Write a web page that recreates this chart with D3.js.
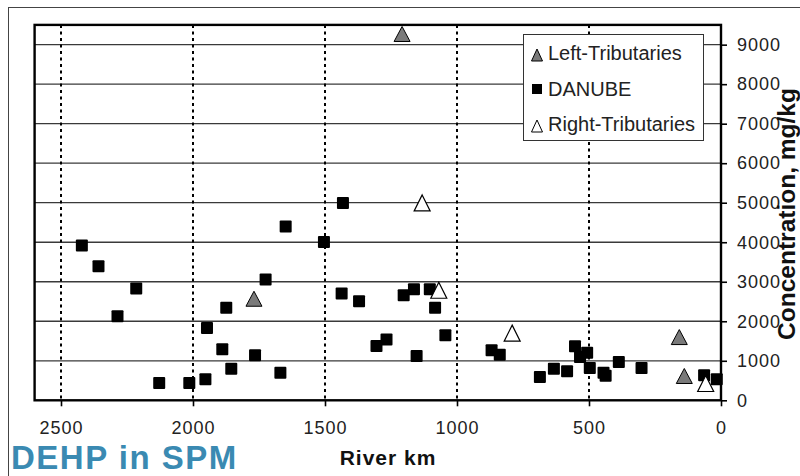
<!DOCTYPE html>
<meta charset="utf-8">
<html>
<head>
	<script src="https://cdn.jsdelivr.net/npm/d3@7/dist/d3.min.js"></script>
	<style>
		body { margin: 0; background: #fff; }
		svg { display: block; font-family: "Liberation Sans", Arial, sans-serif; }
		.tick text { font-size: 18px; fill: #222; letter-spacing: 1px; }
	</style>
</head>
<body>
	<svg id="chart" width="800" height="476"></svg>
	<script>
		// river km (x) and concentration mg/kg (y)
		var danubeKm  = [2421, 2358, 2286, 2215, 2128, 2014, 1953, 1947, 1889, 1874, 1855, 1765, 1725, 1669, 1649, 1504, 1437, 1432, 1371, 1305, 1267, 1202, 1163, 1153, 1103, 1083, 1044, 869, 838, 686, 633, 583, 553, 534, 507, 497, 445, 437, 387, 301, 64, 16];
		var danubeVal = [3920, 3390, 2125, 2830, 440, 440, 530, 1830, 1290, 2345, 800, 1140, 3055, 700, 4400, 4005, 2700, 4990, 2505, 1375, 1540, 2660, 2810, 1120, 2810, 2345, 1645, 1265, 1155, 590, 800, 735, 1365, 1095, 1205, 815, 700, 620, 970, 815, 635, 530];

		var leftKm  = [1208, 1769, 158, 139];
		var leftVal = [9270, 2570, 1600, 615];

		var rightKm  = [1132, 1069, 791, 58];
		var rightVal = [4995, 2785, 1700, 425];

		var xTicks = [2500, 2000, 1500, 1000, 500, 0];
		var yTicks = [0, 1000, 2000, 3000, 4000, 5000, 6000, 7000, 8000, 9000];

		var legendNames = ["Left-Tributaries", "DANUBE", "Right-Tributaries"];

		var plot = {left: 34.6, right: 721, top: 24.9, bottom: 400.3};

		var x = d3.scaleLinear().domain([2600, 0]).range([plot.left, plot.right]);
		var y = d3.scaleLinear().domain([0, 9500]).range([plot.bottom, plot.top]);

		var svg = d3.select("#chart");

		// outer frame of the picture
		svg.append("rect")
			.attr("x", 8.5).attr("y", 7.5)
			.attr("width", 820).attr("height", 500)
			.attr("fill", "none").attr("stroke", "#444").attr("stroke-width", 1);

		// horizontal grid
		svg.append("g").selectAll("line").data(yTicks.slice(1))
			.enter().append("line")
				.attr("x1", plot.left).attr("x2", plot.right)
				.attr("y1", function(d) { return y(d); })
				.attr("y2", function(d) { return y(d); })
				.attr("stroke", "#3a3a3a").attr("stroke-width", 1.3);

		// vertical dotted grid
		svg.append("g").selectAll("line").data(xTicks.slice(0, -1))
			.enter().append("line")
				.attr("x1", function(d) { return x(d); })
				.attr("x2", function(d) { return x(d); })
				.attr("y1", plot.top).attr("y2", plot.bottom)
				.attr("stroke", "#000").attr("stroke-width", 2)
				.attr("stroke-dasharray", "3,3.5");

		// axes
		var fmt = d3.format("d");
		svg.append("g")
			.attr("transform", "translate(" + plot.right + ",0)")
			.call(d3.axisRight(y).tickValues(yTicks).tickFormat(fmt).tickSize(6).tickPadding(10));
		svg.append("g")
			.attr("transform", "translate(0," + plot.bottom + ")")
			.call(d3.axisBottom(x).tickValues(xTicks).tickFormat(fmt).tickSize(6).tickPadding(15));
		svg.selectAll(".domain").remove();
		svg.selectAll(".tick line").attr("stroke", "#000").attr("stroke-width", 1.6);

		// plot frame
		svg.append("rect")
			.attr("x", plot.left).attr("y", plot.top)
			.attr("width", plot.right - plot.left).attr("height", plot.bottom - plot.top)
			.attr("fill", "none").attr("stroke", "#000").attr("stroke-width", 2.4);

		// legend box
		var legend = svg.append("g");
		legend.append("rect")
			.attr("x", 523.5).attr("y", 34.5).attr("width", 180).attr("height", 106)
			.attr("fill", "#fff").attr("stroke", "#333").attr("stroke-width", 1);

		var tri = function(w, h) {
			return "M0," + (-h / 2) + "L" + (w / 2) + "," + (h / 2) + "L" + (-w / 2) + "," + (h / 2) + "Z";
		};

		// points
		svg.append("g").selectAll("rect").data(danubeKm)
			.enter().append("rect")
				.attr("x", function(d) { return x(d) - 6; })
				.attr("y", function(d, i) { return y(danubeVal[i]) - 6; })
				.attr("width", 12).attr("height", 12)
				.attr("rx", 1)
				.attr("fill", "#000");

		svg.append("g").selectAll("path").data(leftKm)
			.enter().append("path")
				.attr("d", tri(16, 15))
				.attr("transform", function(d, i) { return "translate(" + x(d) + "," + y(leftVal[i]) + ")"; })
				.attr("fill", "#7a7a7a").attr("stroke", "#000").attr("stroke-width", 1);

		svg.append("g").selectAll("path").data(rightKm)
			.enter().append("path")
				.attr("d", tri(16, 16))
				.attr("transform", function(d, i) { return "translate(" + x(d) + "," + y(rightVal[i]) + ")"; })
				.attr("fill", "#fff").attr("stroke", "#000").attr("stroke-width", 1.2);

		// legend entries
		var legendY = [53, 89, 124];
		legend.append("path").attr("d", tri(11, 12))
			.attr("transform", "translate(537," + (legendY[0] + 2) + ")")
			.attr("fill", "#7a7a7a").attr("stroke", "#000");
		legend.append("rect")
			.attr("x", 532).attr("y", legendY[1] - 5).attr("width", 10).attr("height", 10)
			.attr("fill", "#000");
		legend.append("path").attr("d", tri(11, 12))
			.attr("transform", "translate(537," + (legendY[2] + 2) + ")")
			.attr("fill", "#fff").attr("stroke", "#000");
		legend.selectAll("text").data(legendNames)
			.enter().append("text")
				.attr("x", 548)
				.attr("y", function(d, i) { return legendY[i] + 7; })
				.attr("font-size", 20)
				.attr("fill", "#222")
				.text(function(d) { return d; });

		// titles
		svg.append("text")
			.attr("transform", "translate(795,214) rotate(-90)")
			.attr("text-anchor", "middle")
			.attr("font-size", 24.5).attr("font-weight", "bold")
			.attr("fill", "#111")
			.text("Concentration, mg/kg");

		svg.append("text")
			.attr("x", 388).attr("y", 465)
			.attr("text-anchor", "middle")
			.attr("font-size", 21).attr("font-weight", "bold")
			.attr("letter-spacing", 1)
			.attr("fill", "#111")
			.text("River km");

		svg.append("text")
			.attr("x", 11).attr("y", 469)
			.attr("font-size", 33).attr("font-weight", "bold")
			.attr("letter-spacing", 1.5)
			.attr("fill", "#3a8ab2")
			.text("DEHP in SPM");
	</script>
</body>
</html>
